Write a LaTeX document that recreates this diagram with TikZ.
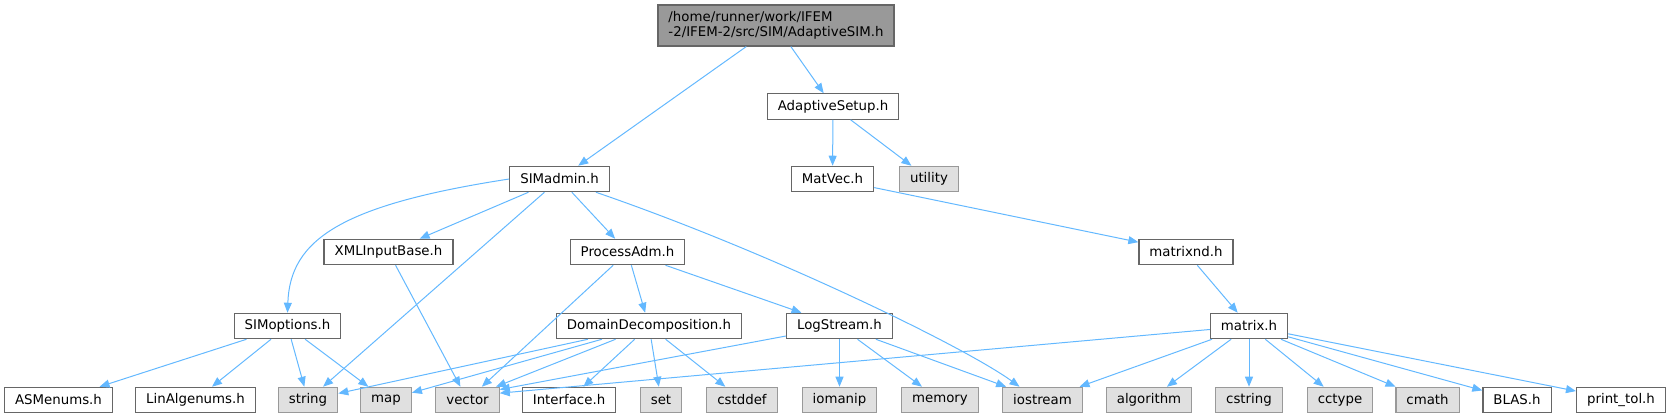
\documentclass[tikz,border=0pt]{standalone}
\usepackage{fontspec}
\setmainfont{DejaVu Sans}
\usetikzlibrary{arrows.meta}
\definecolor{incblue}{HTML}{63B8FF}
\definecolor{hline}{HTML}{666666}
\definecolor{sline}{HTML}{999999}
\definecolor{sfill}{HTML}{E0E0E0}
\definecolor{rfill}{HTML}{999999}
\tikzset{
  hfile/.style={draw=hline,fill=white,line width=0.9pt,minimum height=19pt,
    inner xsep=7.9pt,inner ysep=0pt,font=\fontsize{10}{11.25}\selectfont},
  sysfile/.style={hfile,draw=sline,fill=sfill},
  rootfile/.style={hfile,fill=rfill,align=left,minimum height=30.75pt},
  incl/.style={->,draw=incblue,line width=0.75pt},
  every scope/.style={>={Triangle[length=7.5pt,width=6pt]}}
}

\begin{document}
\begin{tikzpicture}[x=0.75pt,y=-0.75pt,>={Triangle[length=7.5pt,width=6pt]}]
  \useasboundingbox (0,0) rectangle (1669,417);
  % headers
  \node[rootfile] (adSIM)   at (776,25.5) {/home/runner/work/IFEM\\-2/IFEM-2/src/SIM/AdaptiveSIM.h};
  \node[hfile]    (adSetup) at (833,106.5) {AdaptiveSetup.h};
  \node[hfile]    (simAdm)  at (559.5,179) {SIMadmin.h};
  \node[hfile]    (matVec)  at (832.5,179) {MatVec.h};
  \node[sysfile]  (util)    at (929,179)   {utility};
  \node[hfile]    (xmlIn)   at (388.5,252) {XMLInputBase.h};
  \node[hfile]    (procAdm) at (627.5,252) {ProcessAdm.h};
  \node[hfile]    (matNd)   at (1186,252)  {matrixnd.h};
  \node[hfile]    (simOpt)  at (287.5,326) {SIMoptions.h};
  \node[hfile]    (domDec)  at (649,326)   {DomainDecomposition.h};
  \node[hfile]    (logStr)  at (839.5,326) {LogStream.h};
  \node[hfile]    (mat)     at (1249,326)  {matrix.h};
  % bottom row
  \node[hfile]    (asmEn)   at (58.5,400)  {ASMenums.h};
  \node[hfile]    (linAlg)  at (195.5,400) {LinAlgenums.h};
  \node[sysfile]  (str)     at (308,400)   {string};
  \node[sysfile]  (map)     at (386,400)   {map};
  \node[sysfile]  (vec)     at (467.5,400) {vector};
  \node[hfile]    (intf)    at (569,400)   {Interface.h};
  \node[sysfile]  (set)     at (661,400)   {set};
  \node[sysfile]  (cstddef) at (742,400)   {cstddef};
  \node[sysfile]  (iomanip) at (839.5,400) {iomanip};
  \node[sysfile]  (mem)     at (940,400)   {memory};
  \node[sysfile]  (iostr)   at (1042.5,400) {iostream};
  \node[sysfile]  (algo)    at (1149,400)  {algorithm};
  \node[sysfile]  (cstr)    at (1249,400)  {cstring};
  \node[sysfile]  (cctype)  at (1340,400)  {cctype};
  \node[sysfile]  (cmath)   at (1427.5,400) {cmath};
  \node[hfile]    (blas)    at (1517,400)  {BLAS.h};
  \node[hfile]    (ptol)    at (1621,400)  {print\_tol.h};
  % includes
  \draw[incl] (adSIM) -- (simAdm);
  \draw[incl] (adSIM) -- (adSetup);
  \draw[incl] (adSetup) -- (matVec);
  \draw[incl] (adSetup) -- (util);
  \draw[incl] (matVec) -- (matNd);
  \draw[incl] (matNd) -- (mat);
  \draw[incl] (simAdm.west) .. controls (340,205) and (290,240) .. (simOpt.north);
  \draw[incl] (simAdm) -- (xmlIn);
  \draw[incl] (simAdm) -- (str);
  \draw[incl] (simAdm) -- (procAdm);
  \draw[incl] (simAdm.-20) .. controls (770,252) and (965,347) .. (iostr.150);
  \draw[incl] (xmlIn) -- (vec);
  \draw[incl] (procAdm) -- (vec);
  \draw[incl] (procAdm) -- (domDec);
  \draw[incl] (procAdm) -- (logStr);
  \draw[incl] (simOpt) -- (asmEn);
  \draw[incl] (simOpt) -- (linAlg);
  \draw[incl] (simOpt) -- (str);
  \draw[incl] (simOpt) -- (map);
  \draw[incl] (domDec) -- (str);
  \draw[incl] (domDec) -- (map);
  \draw[incl] (domDec) -- (vec.25);
  \draw[incl] (domDec) -- (intf);
  \draw[incl] (domDec) -- (set);
  \draw[incl] (domDec) -- (cstddef);
  \draw[incl] (logStr) -- (vec.18);
  \draw[incl] (logStr) -- (iomanip);
  \draw[incl] (logStr) -- (mem);
  \draw[incl] (logStr) -- (iostr);
  \draw[incl] (mat) -- (vec.12);
  \draw[incl] (mat) -- (iostr);
  \draw[incl] (mat) -- (algo);
  \draw[incl] (mat) -- (cstr);
  \draw[incl] (mat) -- (cctype);
  \draw[incl] (mat) -- (cmath);
  \draw[incl] (mat) -- (blas);
  \draw[incl] (mat) -- (ptol);
\end{tikzpicture}
\end{document}
